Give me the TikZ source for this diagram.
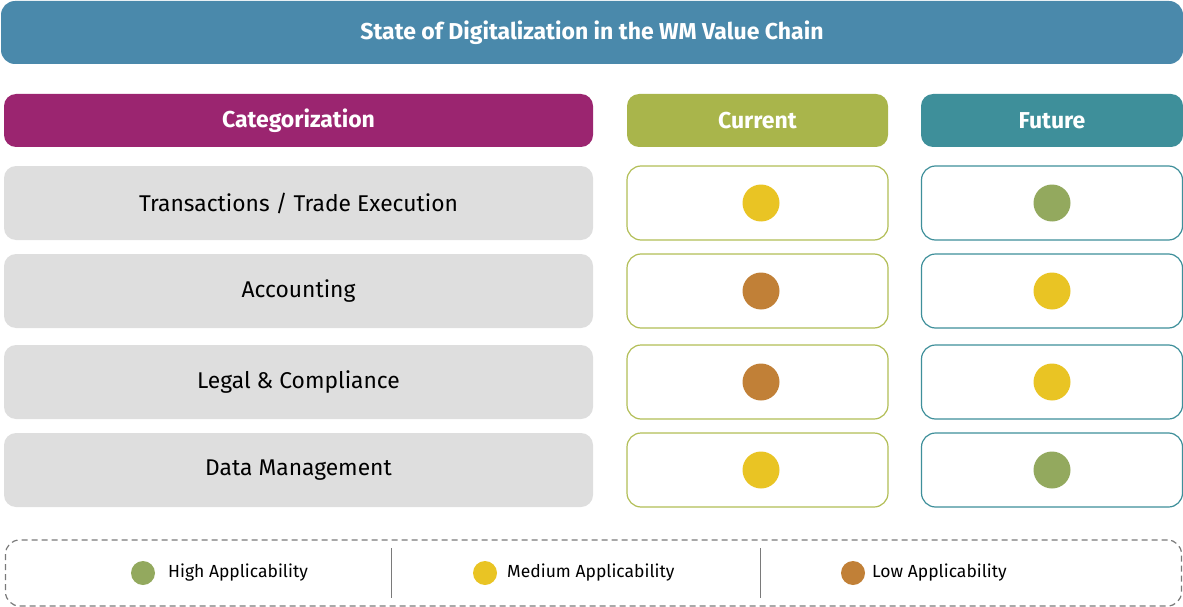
\documentclass[tikz,border=0pt]{standalone}
\usepackage{fontspec}
\setmainfont{Fira Sans}
\begin{document}
\begin{tikzpicture}[x=1pt,y=-1pt,
  titlebar/.style={fill=titleblue,draw=none,rounded corners=14pt,text=white,font=\fontsize{23}{26}\selectfont\bfseries},
  headbox/.style={draw=none,rounded corners=12pt,text=white,font=\fontsize{23}{26}\selectfont\bfseries},
  catbox/.style={fill=rowgray,draw=none,rounded corners=12pt,font=\fontsize{22.8}{26}\selectfont},
  curbox/.style={draw=curline,line width=1.2pt,fill=white,rounded corners=14pt},
  futbox/.style={draw=futline,line width=1.2pt,fill=white,rounded corners=14pt},
  dot/.style={circle,minimum size=37pt,inner sep=0pt,draw=none},
  ldot/.style={circle,minimum size=24pt,inner sep=0pt,draw=none},
  ltext/.style={anchor=west,font=\fontsize{17.5}{20}\selectfont,inner sep=0pt},
]
\definecolor{titleblue}{HTML}{4A89AB}
\definecolor{catpurple}{HTML}{9B2570}
\definecolor{curgreen}{HTML}{A9B54B}
\definecolor{futteal}{HTML}{3E8F9A}
\definecolor{rowgray}{HTML}{DEDEDE}
\definecolor{curline}{HTML}{B2BE56}
\definecolor{futline}{HTML}{3E8F9A}
\definecolor{hi}{HTML}{93A95E}
\definecolor{med}{HTML}{E9C424}
\definecolor{lo}{HTML}{C18037}
\definecolor{lgray}{HTML}{7A7A7A}
\useasboundingbox (0,0) rectangle (1183,607);

\node[titlebar,minimum width=1182pt,minimum height=63pt] (title) at (592,32.5) {State of Digitalization in the WM Value Chain};

\node[headbox,fill=catpurple,minimum width=589pt,minimum height=53pt] (cat) at (298.5,120.5) {Categorization};
\node[headbox,fill=curgreen,minimum width=261pt,minimum height=53pt] (cur) at (757.5,120.5) {Current};
\node[headbox,fill=futteal,minimum width=262pt,minimum height=53pt] (fut) at (1052,120.5) {Future};

\foreach \y/\lbl/\n/\cc/\fc in {203/{Transactions / Trade Execution}/1/med/hi,
                                 291/{Accounting}/2/lo/med,
                                 382/{Legal \& Compliance}/3/lo/med,
                                 470/{Data Management}/4/med/hi}{
  \node[catbox,minimum width=589pt,minimum height=74pt] (r\n) at (298.5,\y) {\lbl};
  \node[curbox,minimum width=261pt,minimum height=74pt] (c\n) at (757.5,\y) {};
  \node[futbox,minimum width=261pt,minimum height=74pt] (f\n) at (1052,\y) {};
  \node[dot,fill=\cc] (cd\n) at (761,\y) {};
  \node[dot,fill=\fc] (fd\n) at (1052,\y) {};
}

\node[draw=lgray,dashed,line width=1.2pt,dash pattern=on 6pt off 4pt,rounded corners=14pt,minimum width=1176pt,minimum height=66pt] (legend) at (593.5,573) {};
\coordinate (d1t) at (391,548); \coordinate (d1b) at (391,598);
\coordinate (d2t) at (760,548); \coordinate (d2b) at (760,598);
\draw[lgray,line width=1pt] (d1t) -- (d1b);
\draw[lgray,line width=1pt] (d2t) -- (d2b);

\node[ldot,fill=hi] (lh) at (143,573) {};
\node[ltext] (lht) at (168,573) {High Applicability};
\node[ldot,fill=med] (lm) at (485,573) {};
\node[ltext] (lmt) at (507,573) {Medium Applicability};
\node[ldot,fill=lo] (ll) at (853,573) {};
\node[ltext] (llt) at (872,573) {Low Applicability};
\end{tikzpicture}
\end{document}
